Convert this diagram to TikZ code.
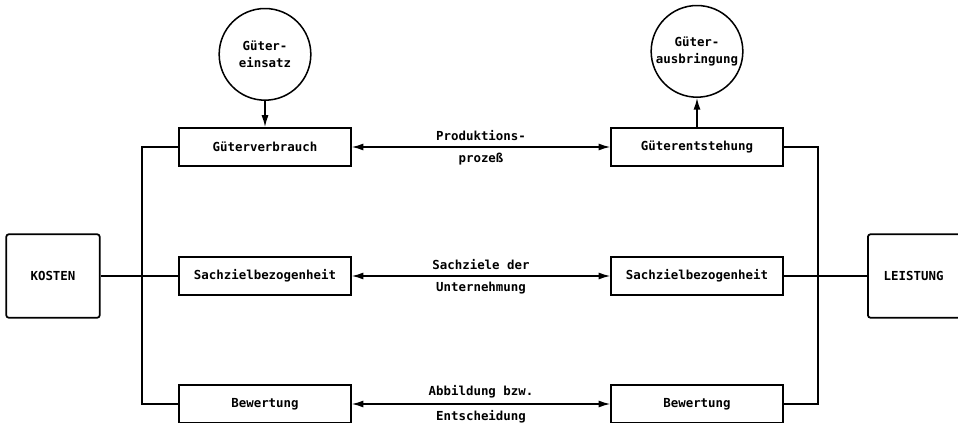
\documentclass[tikz,border=0pt]{standalone}
\usepackage{fontspec}
\setmonofont{DejaVu Sans Mono}
\usetikzlibrary{arrows.meta, positioning}
\tikzset{larrow/.style = {-{Latex[length=10pt, width=6pt]}}}
\tikzset{lrarrow/.style = {{Latex[length=10pt, width=6pt]}-{Latex[length=10pt, width=6pt]}}}
\tikzset{
    every node/.style = {font=\ttfamily\bfseries\fontsize{10.6}{14.5}\selectfont},
    box/.style   = {draw, line width=1.5pt, minimum width=5.15cm, minimum height=1.15cm, inner sep=0pt},
    pool/.style  = {draw, circle, line width=1.3pt, minimum size=2.75cm, inner sep=0pt, align=center},
    side/.style  = {draw, line width=1.5pt, rounded corners=2pt, minimum width=2.8cm, minimum height=2.5cm},
    link/.style  = {line width=1.2pt}
}

\begin{document}
\begin{tikzpicture}[x=0.03cm, y=-0.03cm]
    \useasboundingbox (0,0) rectangle (958,423);

    \node[box]  (gv)  at (265,147) {Güterverbrauch};
    \node[box]  (ge)  at (697,147) {Güterentstehung};
    \node[box]  (sz1) at (265,276) {Sachzielbezogenheit};
    \node[box]  (sz2) at (697,276) {Sachzielbezogenheit};
    \node[box]  (bw1) at (265,404) {Bewertung};
    \node[box]  (bw2) at (697,404) {Bewertung};

    \node[pool] (ein) [above=0.78cm of gv] {Güter-\\einsatz};
    \node[pool] (aus) [above=0.87cm of ge] {Güter-\\ausbringung};

    \node[side] (kosten)   at (53,276)  {KOSTEN};
    \node[side, minimum width=3.3cm] (leistung) at (923,276) {\hspace*{-16pt}LEISTUNG};

    \coordinate (lbus) at (142,0);
    \coordinate (rbus) at (818,0);

    % Gueterfluss
    \draw[larrow, link] (ein) -- (gv);
    \draw[larrow, link] (ge) -- (aus);

    % Beziehungen zwischen beiden Seiten
    \draw[lrarrow, link] (gv) -- node[above=1.5pt] {Produktions-} node[below=1.5pt] {prozeß} (ge);
    \draw[lrarrow, link] (sz1) -- node[above=1.5pt] {Sachziele der} node[below=1.5pt] {Unternehmung} (sz2);
    \draw[lrarrow, link] (bw1) -- node[above=1.5pt] {Abbildung bzw.} node[below=1.5pt] {Entscheidung} (bw2);

    % Verbindungen zu Kosten und Leistung
    \draw[link] (gv.west) -- (gv.west -| lbus) |- (bw1.west);
    \draw[link] (ge.east) -- (ge.east -| rbus) |- (bw2.east);
    \draw[link] (kosten) -- (sz1);
    \draw[link] (sz2) -- (leistung);
\end{tikzpicture}
\end{document}
